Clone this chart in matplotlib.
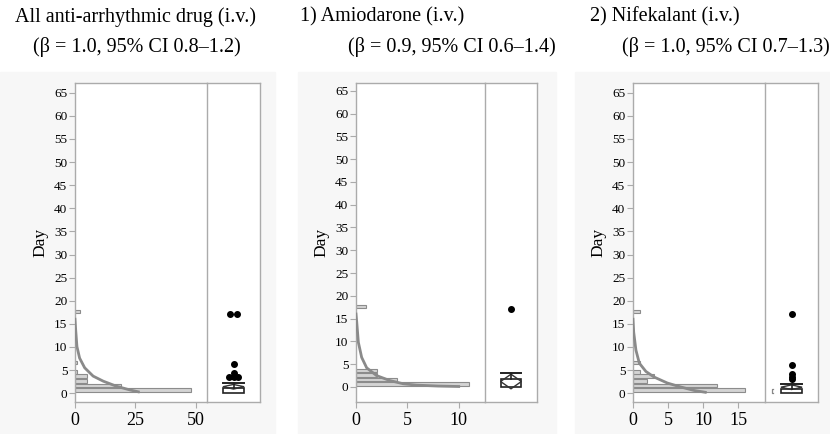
import numpy as np
from matplotlib import pyplot as plt
from matplotlib.patches import Rectangle, Polygon

plt.rcParams['font.family'] = ['Liberation Serif', 'DejaVu Serif']

# ---- data ----
titles = ['All anti-arrhythmic drug (i.v.)', '1) Amiodarone (i.v.)', '2) Nifekalant (i.v.)']
subtitles = ['(\u03b2 = 1.0, 95% CI 0.8\u20131.2)',
             '(\u03b2 = 0.9, 95% CI 0.6\u20131.4)',
             '(\u03b2 = 1.0, 95% CI 0.7\u20131.3)']

# histogram bins (day) and counts
all_days = [0, 1, 2, 3, 4, 6, 17]
all_counts = [48, 19, 5, 5, 1, 1, 2]
ami_days = [0, 1, 2, 3, 17]
ami_counts = [11, 4, 2, 2, 1]
nif_days = [0, 1, 2, 3, 4, 6, 17]
nif_counts = [16, 12, 2, 3, 1, 1, 1]

# fitted density curves (count, day)
all_curve_x = [0.0, 0.3, 0.8, 1.9, 4.0, 7.5, 11.7, 17.2, 22.8, 26.2]
all_curve_y = [16.0, 13.6, 10.1, 7.6, 5.5, 3.7, 2.6, 1.5, 0.7, 0.3]
ami_curve_x = [0.0, 0.07, 0.23, 0.55, 1.04, 2.0, 3.3, 4.6, 5.9, 8.0, 10.0]
ami_curve_y = [16.0, 14.3, 9.8, 6.5, 4.2, 2.5, 1.4, 0.7, 0.4, 0.2, 0.1]
nif_curve_x = [0.0, 0.1, 0.42, 0.9, 1.84, 3.0, 4.9, 6.8, 8.7, 10.3]
nif_curve_y = [16.0, 13.2, 9.3, 6.5, 4.7, 3.5, 2.2, 1.35, 0.6, 0.2]

# outlier box plot summaries
all_box = dict(q1=0.0, q3=1.1, cap=2.3, mean=1.4, half=0.5)
ami_box = dict(q1=0.0, q3=1.8, cap=3.0, mean=1.2, half=1.6)
nif_box = dict(q1=0.0, q3=1.0, cap=2.1, mean=1.3, half=0.5)
all_out_y = [17.2, 17.2, 6.3, 4.4, 3.4, 3.4, 3.4]
all_out_x = [-0.12, 0.12, 0.0, 0.0, -0.18, 0.0, 0.16]
ami_out_y = [17.2]
ami_out_x = [0.0]
nif_out_y = [17.1, 6.1, 4.2, 3.4, 3.0]
nif_out_x = [0.0, 0.0, 0.0, 0.0, 0.0]

W, H = 830, 434
frame_c = '#ababab'
bar_c = '#d4d4d4'
bar_e = '#8c8c8c'
curve_c = '#8a8a8a'


def px_axes(fig, x0, x1, y0, y1):
    # pixel box (top-left origin) -> figure axes
    return fig.add_axes([x0 / W, 1 - y1 / H, (x1 - x0) / W, (y1 - y0) / H])


def style_frame(ax):
    for s in ax.spines.values():
        s.set_color(frame_c)
        s.set_linewidth(1.0)


def draw_panel(fig, box, days, counts, cx, cy, bp, out_x, out_y,
               xmax, xticks, ylim, bracket=False):
    left, div, right, top, bottom = box
    ax = px_axes(fig, left, div, top, bottom)
    ax.barh(np.array(days) + 0.65, counts, height=0.8, color=bar_c,
            edgecolor=bar_e, linewidth=0.8, zorder=2)
    ax.plot(cx, cy, color=curve_c, lw=2, zorder=3)
    ax.set_xlim(0, xmax)
    ax.set_ylim(*ylim)
    ax.set_yticks(range(0, 66, 5))
    ax.set_xticks(xticks)
    ax.tick_params(axis='y', labelsize=9.5, length=4, color=frame_c, pad=1.5)
    ax.tick_params(axis='x', labelsize=13, length=4, color=frame_c, pad=3)
    ax.set_ylabel('Day', fontsize=12.5, labelpad=4)
    style_frame(ax)
    ax.spines['right'].set_visible(False)

    bx = px_axes(fig, div, right, top, bottom)
    bx.set_xlim(-1, 1)
    bx.set_ylim(*ylim)
    bx.set_xticks([])
    bx.set_yticks([])
    style_frame(bx)
    hw = 0.4
    bx.add_patch(Rectangle((-hw, bp['q1']), 2 * hw, bp['q3'] - bp['q1'],
                           fill=False, ec='#222222', lw=1.2))
    bx.plot([0, 0], [bp['q3'], bp['cap']], color='#222222', lw=1.2)
    bx.plot([-hw, hw], [bp['cap'], bp['cap']], color='#222222', lw=1.4)
    m, h = bp['mean'], bp['half']
    bx.add_patch(Polygon([[0, m + h], [hw, m], [0, m - h], [-hw, m]],
                         closed=True, fill=False, ec='#333333', lw=1.0))
    bx.plot(out_x, out_y, 'o', color='black', ms=4)
    if bracket:
        bx.plot([-0.68, -0.74, -0.74, -0.68], [bp['q1'], bp['q1'], bp['q3'], bp['q3']],
                color='#888888', lw=0.9)
    return ax


fig = plt.figure(figsize=(W / 100, H / 100), dpi=100, facecolor='white')

# faint grey backing behind each panel image
for x0, x1 in [(0, 275), (298, 556), (575, 830)]:
    fig.patches.append(Rectangle((x0 / W, 0), (x1 - x0) / W, 1 - 72 / H,
                                 transform=fig.transFigure, color='#f7f7f7', zorder=-10))

draw_panel(fig, (75, 207, 260, 83, 402), all_days, all_counts, all_curve_x, all_curve_y,
           all_box, all_out_x, all_out_y, 54.6, [0, 25, 50], (-1.9, 67.1))
draw_panel(fig, (356, 485, 537, 83, 402), ami_days, ami_counts, ami_curve_x, ami_curve_y,
           ami_box, ami_out_x, ami_out_y, 12.56, [0, 5, 10], (-3.3, 66.7))
draw_panel(fig, (633, 765, 818, 83, 402), nif_days, nif_counts, nif_curve_x, nif_curve_y,
           nif_box, nif_out_x, nif_out_y, 18.8, [0, 5, 10, 15], (-1.9, 67.1), bracket=True)

title_x = [15, 300, 590]
sub_x = [33, 348, 622]
for t, s, tx, sx in zip(titles, subtitles, title_x, sub_x):
    fig.text(tx / W, 1 - 17 / H, t, fontsize=14.5, va='center', ha='left')
    fig.text(sx / W, 1 - 47 / H, s, fontsize=14.5, va='center', ha='left')

plt.savefig('out.png', dpi=100, facecolor='white')
